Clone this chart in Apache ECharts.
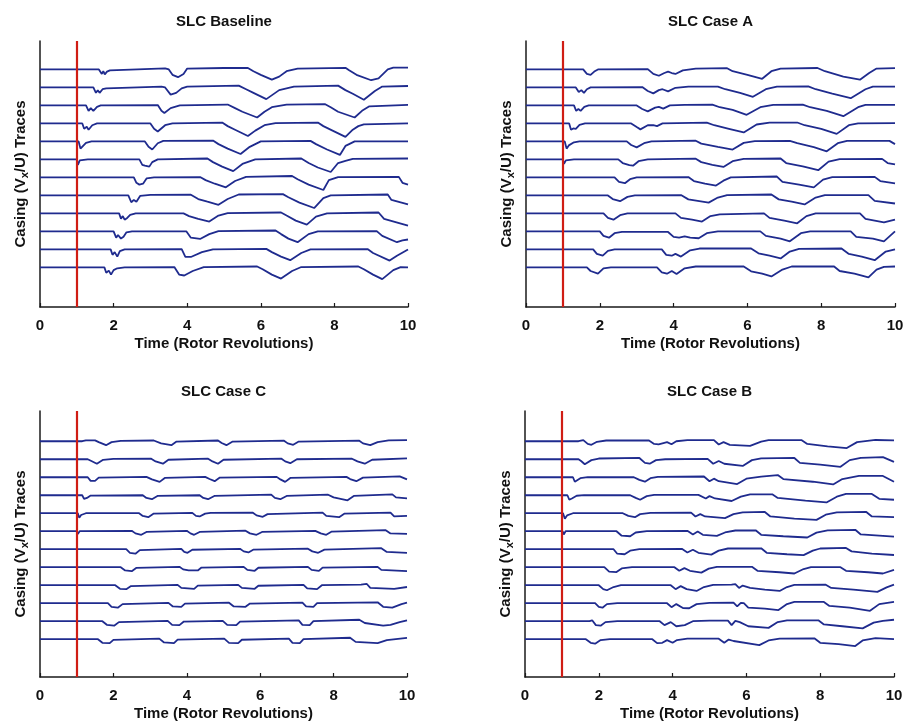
<!DOCTYPE html>
<html>
<head>
<meta charset="utf-8">
<script src="https://cdn.jsdelivr.net/npm/echarts@6/dist/echarts.min.js"></script>
<style>
  html, body { margin: 0; padding: 0; background: #ffffff; }
  #chart { width: 907px; height: 726px; }
</style>
</head>
<body>
<div id="chart"></div>
<script>
// Casing velocity traces (V_x/U) from 12 circumferential probes, top probe first.
// Each trace is a list of [time in rotor revolutions, deviation from its own baseline],
// with the deviation measured in units of the spacing between traces.
const panelTitles = ['SLC Baseline', 'SLC Case A', 'SLC Case C', 'SLC Case B'];
const xTicks = [0, 2, 4, 6, 8, 10];
const markerTime = 1;   // throttle / marker instant

const baselineTraces = [
  [[0,0],[1.6,0],[1.68,-0.25],[1.72,-0.1],[1.76,-0.28],[1.82,-0.12],[1.9,-0.05],[1.95,0],[3.4,0.06],[3.5,0],[3.6,-0.3],[3.75,-0.43],[3.9,-0.25],[4.0,0.05],[5.0,0.08],[5.65,0.08],[5.8,-0.1],[6.0,-0.3],[6.3,-0.57],[6.5,-0.4],[6.7,-0.1],[7.0,0.05],[8.3,0.09],[8.4,-0.05],[8.6,-0.3],[9.0,-0.6],[9.2,-0.5],[9.45,0],[9.6,0.1],[10,0.1]],
  [[0,0],[1.45,0],[1.52,-0.3],[1.57,-0.15],[1.62,-0.3],[1.7,-0.1],[1.8,-0.05],[3.3,0.05],[3.4,0],[3.55,-0.4],[3.7,-0.3],[3.85,-0.05],[4.0,0.05],[5.4,0.1],[5.6,-0.1],[5.8,-0.3],[6.15,-0.65],[6.5,-0.15],[6.9,0.05],[8.1,0.1],[8.3,-0.15],[8.5,-0.35],[8.8,-0.68],[9.1,-0.2],[9.3,0.05],[10,0.08]],
  [[0,0],[1.25,0],[1.32,-0.3],[1.38,-0.15],[1.45,-0.3],[1.55,-0.08],[1.65,0],[3.2,0.02],[3.3,-0.3],[3.38,-0.42],[3.55,-0.15],[3.8,0],[5.1,0.05],[5.3,-0.15],[5.5,-0.35],[5.9,-0.67],[6.1,-0.35],[6.3,-0.1],[6.7,0.05],[7.75,0.07],[7.9,-0.1],[8.1,-0.35],[8.55,-0.67],[8.75,-0.3],[8.95,-0.05],[10,0.03]],
  [[0,0],[1.15,0],[1.2,-0.3],[1.27,-0.18],[1.32,-0.35],[1.42,-0.1],[1.55,0],[3.0,0],[3.1,-0.3],[3.2,-0.45],[3.4,-0.1],[3.6,0],[4.95,0.05],[5.1,-0.15],[5.3,-0.35],[5.65,-0.7],[5.85,-0.4],[6.1,-0.1],[6.4,0.02],[7.55,0.05],[7.7,-0.15],[7.95,-0.4],[8.3,-0.75],[8.5,-0.35],[8.65,-0.15],[8.8,-0.05],[10,0]],
  [[0,0],[1.05,0],[1.1,-0.4],[1.15,-0.3],[1.25,-0.08],[1.4,0],[2.85,0],[2.95,-0.3],[3.05,-0.45],[3.2,-0.1],[3.35,0.03],[4.7,0.05],[4.85,-0.15],[5.1,-0.4],[5.45,-0.7],[5.7,-0.3],[6.0,0],[7.35,0.03],[7.5,-0.15],[7.8,-0.45],[8.15,-0.75],[8.3,-0.25],[8.4,-0.15],[8.55,0],[10,0]],
  [[0,0],[1.0,0],[1.03,-0.3],[1.08,-0.05],[1.3,0],[2.7,0],[2.78,-0.3],[2.85,-0.35],[2.9,-0.25],[2.97,-0.4],[3.05,-0.15],[3.2,0],[4.55,0.05],[4.7,-0.15],[4.95,-0.4],[5.25,-0.65],[5.5,-0.25],[5.85,0],[7.1,0.05],[7.3,-0.2],[7.55,-0.45],[7.9,-0.7],[8.1,-0.2],[8.3,-0.08],[8.5,0.03],[10,0.05]],
  [[0,0],[2.55,0],[2.62,-0.3],[2.7,-0.4],[2.75,-0.3],[2.8,-0.35],[2.9,-0.05],[3.1,0],[4.35,0.02],[4.5,-0.15],[4.75,-0.35],[5.05,-0.55],[5.3,-0.2],[5.6,0.03],[6.85,0.08],[7.0,-0.1],[7.3,-0.4],[7.7,-0.7],[7.85,-0.15],[8.1,0.02],[9.75,0.03],[9.85,-0.3],[10,-0.4]],
  [[0,0],[2.4,0],[2.48,-0.38],[2.55,-0.25],[2.62,-0.35],[2.72,-0.03],[3.0,0.03],[4.1,0.04],[4.3,-0.2],[4.55,-0.35],[4.85,-0.52],[5.1,-0.2],[5.4,0.05],[6.6,0.07],[6.75,-0.1],[7.05,-0.4],[7.45,-0.7],[7.7,-0.15],[7.9,0],[9.45,0.05],[9.55,-0.25],[10,-0.5]],
  [[0,0],[2.15,0],[2.2,-0.3],[2.25,-0.15],[2.3,-0.35],[2.37,-0.25],[2.45,-0.08],[2.6,0],[3.9,0],[4.05,-0.15],[4.3,-0.3],[4.6,-0.45],[4.85,-0.12],[5.1,0.02],[6.55,0.05],[6.7,-0.12],[6.95,-0.4],[7.25,-0.62],[7.5,-0.18],[7.8,0],[9.2,0.05],[9.35,-0.3],[10,-0.68]],
  [[0,0],[2.0,0],[2.07,-0.35],[2.12,-0.2],[2.2,-0.4],[2.27,-0.3],[2.35,-0.05],[2.5,0],[3.98,0],[4.1,-0.35],[4.35,-0.42],[4.6,-0.15],[4.85,0.02],[6.4,0.05],[6.55,-0.15],[6.75,-0.4],[7.0,-0.6],[7.3,-0.15],[7.55,0],[9.15,0.02],[9.3,-0.25],[9.7,-0.6],[9.85,-0.5],[10,-0.45]],
  [[0,0],[1.92,0],[1.97,-0.3],[2.03,-0.15],[2.1,-0.4],[2.17,-0.1],[2.3,0],[3.85,0.02],[3.95,-0.42],[4.1,-0.42],[4.4,-0.15],[4.7,0],[6.15,0.03],[6.3,-0.15],[6.55,-0.4],[6.8,-0.6],[7.1,-0.2],[7.35,0],[8.9,0.02],[9.05,-0.2],[9.5,-0.62],[9.7,-0.35],[10,0]],
  [[0,0],[1.75,0],[1.8,-0.3],[1.87,-0.18],[1.93,-0.4],[2.0,-0.15],[2.1,-0.05],[2.3,0],[3.65,0.02],[3.78,-0.4],[3.92,-0.45],[4.15,-0.2],[4.45,0.02],[5.9,0.05],[6.05,-0.1],[6.3,-0.4],[6.55,-0.62],[6.85,-0.2],[7.1,0.02],[8.65,0.05],[8.8,-0.1],[9.05,-0.4],[9.3,-0.65],[9.6,-0.15],[9.8,0.02],[10,0]]
];

const caseATraces = [
  [[0,0],[1.55,0],[1.65,-0.25],[1.75,-0.3],[1.85,-0.12],[1.95,0],[3.3,0.02],[3.45,-0.25],[3.6,-0.35],[3.75,-0.2],[3.85,-0.12],[3.95,-0.2],[4.05,-0.25],[4.25,-0.05],[4.6,0.05],[5.45,0.07],[5.6,-0.1],[6.0,-0.3],[6.4,-0.52],[6.65,-0.1],[6.9,0.05],[7.9,0.08],[8.1,-0.1],[8.6,-0.4],[9.05,-0.57],[9.3,-0.2],[9.5,0.05],[10,0.07]],
  [[0,0],[1.35,0],[1.43,-0.25],[1.5,-0.15],[1.57,-0.3],[1.65,-0.1],[1.75,0],[3.15,0.02],[3.3,-0.2],[3.45,-0.33],[3.6,-0.15],[3.7,-0.1],[3.85,-0.22],[4.05,-0.02],[4.4,0.05],[5.2,0.05],[5.4,-0.1],[5.8,-0.3],[6.15,-0.52],[6.5,-0.1],[6.8,0.05],[7.65,0.06],[7.85,-0.1],[8.3,-0.35],[8.8,-0.6],[9.2,-0.1],[9.4,0.05],[10,0.05]],
  [[0,0],[1.3,0],[1.36,-0.3],[1.42,-0.2],[1.48,-0.3],[1.58,-0.08],[1.7,0],[3.0,0],[3.15,-0.2],[3.3,-0.33],[3.5,-0.12],[3.6,-0.08],[3.72,-0.18],[3.9,0],[4.3,0.03],[5.05,0.05],[5.25,-0.1],[5.6,-0.25],[5.98,-0.52],[6.35,-0.1],[6.7,0.03],[7.5,0.05],[7.7,-0.1],[8.15,-0.3],[8.6,-0.6],[9.0,-0.1],[9.2,0.03],[10,0.03]],
  [[0,0],[1.17,0],[1.22,-0.35],[1.28,-0.28],[1.35,-0.3],[1.45,-0.08],[1.6,0],[2.85,0],[3.0,-0.2],[3.1,-0.33],[3.3,-0.1],[3.45,-0.1],[3.55,-0.15],[3.7,0],[4.9,0.04],[5.1,-0.1],[5.5,-0.3],[5.9,-0.5],[6.25,-0.06],[6.6,0.05],[7.35,0.05],[7.55,-0.1],[8.0,-0.3],[8.42,-0.58],[8.75,-0.1],[9.0,0],[10,0.02]],
  [[0,0],[1.05,0],[1.1,-0.4],[1.16,-0.22],[1.3,-0.05],[1.45,0],[2.73,0],[2.85,-0.2],[3.0,-0.33],[3.2,-0.1],[3.4,0],[4.6,0.04],[4.75,-0.12],[5.2,-0.3],[5.6,-0.45],[5.9,-0.08],[6.2,0.02],[7.15,0.03],[7.35,-0.1],[7.8,-0.32],[8.15,-0.55],[8.45,-0.1],[8.7,0.03],[9.85,0.03],[10,-0.15]],
  [[0,0],[1.0,0],[1.03,-0.25],[1.08,-0.05],[1.3,0],[2.5,0],[2.62,-0.2],[2.8,-0.32],[2.9,-0.35],[3.05,-0.1],[3.3,0],[4.6,0.04],[4.75,-0.15],[5.05,-0.3],[5.35,-0.42],[5.6,-0.1],[5.9,0.03],[6.9,0.05],[7.05,-0.2],[7.5,-0.38],[7.92,-0.6],[8.2,-0.12],[8.5,0.02],[9.65,0.03],[9.8,-0.2],[10,-0.28]],
  [[0,0],[2.4,0],[2.52,-0.25],[2.68,-0.32],[2.82,-0.1],[3.0,0],[4.4,0.02],[4.55,-0.2],[4.85,-0.35],[5.15,-0.45],[5.35,-0.18],[5.55,0],[6.8,0.05],[6.95,-0.25],[7.4,-0.4],[7.8,-0.55],[8.05,-0.12],[8.3,0.02],[9.45,0.03],[9.6,-0.2],[10,-0.33]],
  [[0,0],[2.22,0],[2.35,-0.2],[2.55,-0.32],[2.75,-0.08],[2.95,0],[4.2,0.02],[4.4,-0.22],[4.95,-0.4],[5.2,-0.12],[5.45,0.02],[6.65,0.05],[6.85,-0.22],[7.2,-0.35],[7.55,-0.5],[7.85,-0.12],[8.1,0.02],[9.28,0.02],[9.45,-0.3],[10,-0.45]],
  [[0,0],[2.1,0],[2.22,-0.25],[2.37,-0.35],[2.55,-0.1],[2.75,0],[4.05,0],[4.2,-0.25],[4.5,-0.35],[4.77,-0.45],[5.0,-0.15],[5.25,-0.05],[6.45,0],[6.6,-0.25],[7.0,-0.4],[7.35,-0.55],[7.6,-0.15],[7.85,0],[9.05,0],[9.2,-0.3],[9.7,-0.5],[10,-0.35]],
  [[0,0],[2.0,0],[2.1,-0.25],[2.25,-0.35],[2.4,-0.1],[2.6,-0.03],[3.85,-0.03],[4.0,-0.3],[4.15,-0.35],[4.3,-0.28],[4.45,-0.35],[4.68,-0.38],[4.9,-0.1],[5.2,0],[6.35,0],[6.5,-0.25],[6.9,-0.4],[7.15,-0.55],[7.45,-0.1],[7.7,0],[8.8,0],[8.95,-0.3],[9.4,-0.4],[9.7,-0.55],[10,0]],
  [[0,0],[1.82,0],[1.92,-0.25],[2.08,-0.35],[2.22,-0.08],[2.4,0],[3.68,0],[3.8,-0.3],[3.95,-0.35],[4.05,-0.25],[4.2,-0.4],[4.45,-0.05],[4.7,0.05],[6.1,0.05],[6.3,-0.22],[6.6,-0.35],[6.9,-0.5],[7.15,-0.12],[7.4,0.03],[8.55,0.05],[8.75,-0.25],[9.1,-0.4],[9.45,-0.6],[9.75,-0.12],[10,0]],
  [[0,0],[1.65,0],[1.75,-0.2],[1.95,-0.35],[2.1,-0.05],[2.3,0],[3.55,0],[3.68,-0.28],[3.82,-0.35],[3.95,-0.2],[4.08,-0.37],[4.3,-0.05],[4.6,0.05],[5.9,0.05],[6.1,-0.22],[6.4,-0.35],[6.65,-0.5],[6.95,-0.12],[7.2,0.05],[8.35,0.05],[8.5,-0.2],[8.9,-0.35],[9.28,-0.55],[9.5,-0.12],[9.7,0.03],[10,0.05]]
];

const caseCTraces = [
  [[0,0],[1.15,0],[1.25,0.05],[1.5,0.05],[1.6,-0.05],[1.8,-0.22],[1.95,-0.05],[2.2,0.02],[3.1,0.04],[3.3,-0.12],[3.58,-0.22],[3.72,-0.02],[4.85,0.04],[4.95,-0.1],[5.08,-0.22],[5.25,-0.02],[6.65,0.03],[6.75,-0.12],[6.9,-0.2],[7.05,-0.02],[8.7,0.03],[8.8,-0.12],[9.0,-0.22],[9.2,-0.05],[9.5,0.05],[10,0.06]],
  [[0,0],[1.3,0],[1.4,-0.1],[1.55,-0.25],[1.72,-0.03],[2.0,0.02],[3.03,0.03],[3.15,-0.12],[3.35,-0.25],[3.5,-0.03],[4.58,0.03],[4.7,-0.12],[4.85,-0.25],[5.0,-0.03],[6.58,0.03],[6.68,-0.12],[6.82,-0.22],[7.0,0],[8.5,0.03],[8.65,-0.12],[8.85,-0.25],[9.05,-0.03],[10,0.05]],
  [[0,0],[1.3,0],[1.38,-0.2],[1.5,-0.2],[1.6,-0.02],[2.9,0.02],[3.05,-0.12],[3.26,-0.26],[3.4,-0.04],[4.5,0.02],[4.62,-0.1],[4.76,-0.22],[4.9,-0.02],[6.45,0.02],[6.55,-0.12],[6.68,-0.26],[6.82,-0.04],[8.35,0.02],[8.45,-0.1],[8.62,-0.22],[8.8,-0.02],[9.8,0.05],[10,-0.12]],
  [[0,0],[1.15,0],[1.2,-0.2],[1.28,-0.15],[1.38,-0.02],[2.8,0],[2.9,-0.15],[3.05,-0.22],[3.2,-0.04],[4.35,0],[4.45,-0.15],[4.58,-0.22],[4.75,-0.04],[6.3,0.03],[6.4,-0.15],[6.55,-0.22],[6.72,-0.04],[7.85,0.03],[8.0,-0.12],[8.38,-0.28],[8.55,-0.04],[9.6,0.05],[9.7,-0.12],[10,-0.18]],
  [[0,0],[1.03,0],[1.07,-0.25],[1.12,-0.1],[1.25,0],[2.7,0],[2.8,-0.15],[2.95,-0.22],[3.1,-0.02],[4.15,0.02],[4.25,-0.15],[4.35,-0.18],[4.5,-0.02],[4.65,0.02],[5.8,0.03],[5.9,-0.12],[6.07,-0.2],[6.2,-0.05],[7.7,0.03],[7.8,-0.15],[8.15,-0.22],[8.3,-0.02],[9.55,0.03],[9.65,-0.18],[10,-0.15]],
  [[0,0],[1.0,0],[1.03,-0.15],[1.08,0],[2.5,0.02],[2.6,-0.12],[2.76,-0.2],[2.9,-0.04],[4.0,0.02],[4.1,-0.12],[4.2,-0.2],[4.35,-0.04],[5.6,0.03],[5.72,-0.12],[5.9,-0.2],[6.05,-0.04],[7.5,0.02],[7.65,-0.12],[7.8,-0.2],[7.95,-0.02],[9.42,0.06],[9.55,-0.12],[10,-0.15]],
  [[0,0],[2.35,0],[2.45,-0.2],[2.6,-0.25],[2.72,-0.05],[3.85,0.02],[3.93,-0.15],[4.02,-0.2],[4.15,-0.03],[5.45,0.02],[5.55,-0.12],[5.68,-0.18],[5.82,-0.02],[7.3,0.03],[7.42,-0.12],[7.58,-0.2],[7.75,-0.02],[9.3,0.06],[9.45,-0.15],[10,-0.2]],
  [[0,0],[2.2,0],[2.32,-0.18],[2.5,-0.22],[2.62,-0.04],[3.8,0.02],[3.9,-0.12],[4.05,-0.18],[4.3,-0.18],[4.4,-0.02],[5.55,0.02],[5.65,-0.15],[5.85,-0.2],[5.95,-0.03],[7.3,0.02],[7.4,-0.15],[7.6,-0.2],[7.7,-0.02],[9.2,0.02],[9.3,-0.15],[10,-0.22]],
  [[0,0],[2.05,0],[2.18,-0.2],[2.35,-0.22],[2.48,-0.05],[3.75,0.02],[3.85,-0.15],[4.2,-0.2],[4.3,-0.02],[5.4,0.02],[5.5,-0.15],[5.85,-0.2],[5.95,-0.03],[7.18,0.02],[7.28,-0.18],[7.55,-0.22],[7.68,0],[8.75,0.03],[8.9,0.08],[9.0,-0.15],[9.65,-0.2],[10,-0.1]],
  [[0,0],[1.85,0],[1.95,-0.2],[2.12,-0.25],[2.25,-0.05],[3.5,0.02],[3.62,-0.18],[3.85,-0.2],[3.95,-0.02],[5.15,0.03],[5.28,-0.18],[5.6,-0.2],[5.72,-0.02],[7.15,0.03],[7.25,-0.18],[7.45,-0.2],[7.55,0],[9.2,0.05],[9.35,-0.2],[9.6,-0.25],[9.85,-0.05],[10,0.03]],
  [[0,0],[1.7,0],[1.82,-0.2],[2.02,-0.25],[2.15,-0.05],[3.48,0.02],[3.6,-0.2],[3.8,-0.22],[3.92,-0.02],[4.98,0.02],[5.1,-0.2],[5.35,-0.22],[5.45,-0.02],[7.05,0.05],[7.15,-0.2],[7.35,-0.22],[7.45,0],[8.7,0.08],[8.85,-0.1],[9.35,-0.25],[9.55,-0.2],[9.8,-0.05],[10,0.05]],
  [[0,0],[1.58,0],[1.7,-0.2],[1.9,-0.22],[2.0,-0.04],[3.25,0.03],[3.38,-0.18],[3.65,-0.22],[3.75,-0.02],[5.02,0.03],[5.15,-0.2],[5.4,-0.22],[5.5,-0.03],[6.78,0.03],[6.88,-0.2],[7.08,-0.22],[7.18,0],[8.45,0.08],[8.6,-0.15],[9.2,-0.22],[9.45,-0.05],[10,0.07]]
];

const caseBTraces = [
  [[0,0],[1.45,0],[1.58,0.06],[1.7,-0.15],[1.8,-0.2],[1.95,-0.03],[2.2,0.04],[3.35,0.05],[3.5,-0.15],[3.62,-0.18],[3.75,-0.1],[3.85,-0.05],[3.97,-0.17],[4.1,0],[4.4,0.06],[5.12,0.06],[5.25,-0.18],[5.38,-0.05],[5.55,-0.2],[6.1,-0.26],[6.4,-0.02],[6.6,0.06],[7.5,0.06],[7.65,-0.15],[8.2,-0.28],[8.72,-0.38],[9.0,-0.05],[9.5,0.07],[10,0.05]],
  [[0,0],[1.45,0],[1.52,-0.1],[1.62,-0.28],[1.8,-0.05],[2.0,0.04],[3.1,0.07],[3.25,-0.2],[3.38,-0.25],[3.55,-0.05],[3.8,0],[4.95,0.02],[5.1,-0.25],[5.25,-0.1],[5.4,-0.25],[5.9,-0.37],[6.15,-0.05],[6.4,0.05],[7.3,0.07],[7.45,-0.2],[8.0,-0.3],[8.55,-0.42],[8.8,-0.05],[9.1,0.07],[9.7,0.12],[10,-0.15]],
  [[0,0],[1.3,0],[1.35,-0.25],[1.4,-0.15],[1.5,-0.05],[1.7,0],[2.95,0],[3.1,-0.15],[3.25,-0.25],[3.4,-0.05],[3.6,0.02],[4.85,0.04],[5.0,-0.22],[5.12,-0.08],[5.25,-0.22],[5.75,-0.38],[6.0,-0.08],[6.4,0.03],[6.85,0.12],[7.0,-0.1],[7.8,-0.25],[8.35,-0.4],[8.6,-0.1],[9.05,0.07],[9.7,0.07],[10,-0.25]],
  [[0,0],[1.15,0],[1.2,-0.25],[1.27,-0.18],[1.4,-0.03],[1.6,0],[2.85,0],[3.0,-0.15],[3.12,-0.25],[3.3,-0.05],[3.5,0.02],[4.7,0.02],[4.9,-0.18],[5.0,-0.05],[5.15,-0.18],[5.6,-0.32],[5.85,-0.08],[6.1,0.05],[6.7,0.05],[6.85,-0.15],[7.6,-0.3],[8.17,-0.4],[8.45,-0.08],[8.7,0.07],[9.4,0.07],[9.6,-0.2],[10,-0.25]],
  [[0,0],[1.03,0],[1.08,-0.3],[1.14,-0.12],[1.3,0],[2.65,0],[2.8,-0.15],[2.98,-0.22],[3.12,-0.05],[3.4,0.02],[4.5,0.03],[4.62,-0.18],[4.75,-0.05],[4.88,-0.18],[5.42,-0.27],[5.65,-0.05],[5.9,0.05],[6.5,0.07],[6.65,-0.18],[7.3,-0.3],[7.9,-0.37],[8.15,-0.08],[8.45,0.05],[9.25,0.07],[9.4,-0.18],[10,-0.22]],
  [[0,0],[1.02,0],[1.05,-0.18],[1.1,0],[2.48,0],[2.62,-0.25],[2.85,-0.28],[3.0,-0.07],[3.3,0],[4.4,0.02],[4.55,-0.18],[4.68,-0.02],[4.82,-0.2],[5.2,-0.26],[5.42,-0.07],[5.7,0.04],[6.25,0.05],[6.4,-0.2],[7.0,-0.28],[7.65,-0.35],[7.9,-0.08],[8.2,0.05],[8.95,0.08],[9.1,-0.18],[10,-0.3]],
  [[0,0],[2.4,0],[2.5,-0.25],[2.7,-0.28],[2.85,-0.08],[3.1,0],[4.25,0.02],[4.4,-0.18],[4.55,-0.03],[4.7,-0.2],[5.05,-0.3],[5.25,-0.08],[5.5,0.04],[6.4,0.05],[6.55,-0.2],[7.1,-0.28],[7.55,-0.33],[7.8,-0.08],[8.0,0.04],[8.7,0.07],[8.85,-0.12],[9.4,-0.25],[10,-0.32]],
  [[0,0],[2.15,0],[2.28,-0.25],[2.48,-0.27],[2.62,-0.07],[2.9,0],[4.05,0],[4.18,-0.2],[4.32,-0.05],[4.47,-0.2],[4.78,-0.3],[4.98,-0.08],[5.2,0.02],[6.15,0.02],[6.3,-0.2],[6.9,-0.28],[7.3,-0.35],[7.55,-0.1],[7.75,0],[8.55,0],[8.7,-0.2],[9.3,-0.28],[9.7,-0.35],[10,-0.15]],
  [[0,0],[2.0,0],[2.12,-0.22],[2.22,-0.28],[2.4,-0.1],[2.6,0],[3.95,0],[4.08,-0.22],[4.22,-0.05],[4.38,-0.22],[4.65,-0.32],[4.85,-0.1],[5.1,0.02],[5.6,0.03],[5.7,0.06],[5.8,-0.15],[5.9,-0.02],[6.1,-0.15],[6.5,-0.25],[6.9,-0.32],[7.1,-0.1],[7.3,0.02],[8.15,0.03],[8.3,-0.15],[8.9,-0.25],[9.55,-0.37],[9.8,-0.12],[10,0.03]],
  [[0,0],[1.9,0],[2.0,-0.2],[2.1,-0.25],[2.22,-0.05],[2.5,0],[3.85,0],[3.97,-0.22],[4.1,-0.05],[4.28,-0.27],[4.45,-0.28],[4.65,-0.05],[5.0,0.02],[5.65,0.03],[5.75,-0.18],[5.85,0.02],[5.93,0],[6.05,-0.25],[6.5,-0.3],[6.87,-0.38],[7.1,-0.05],[7.3,0.07],[8.1,0.07],[8.25,-0.15],[8.8,-0.25],[9.35,-0.42],[9.6,-0.05],[10,0.07]],
  [[0,0],[1.75,0],[1.82,0.05],[1.92,-0.22],[2.05,-0.25],[2.18,-0.05],[2.5,0],[3.65,0],[3.78,-0.22],[3.95,-0.05],[4.1,-0.28],[4.33,-0.22],[4.55,0],[5.0,0.03],[5.5,0.03],[5.6,-0.22],[5.7,0.02],[5.82,-0.05],[6.05,-0.28],[6.6,-0.37],[6.85,-0.05],[7.1,0.05],[7.95,0.05],[8.1,-0.18],[8.6,-0.28],[9.15,-0.4],[9.45,-0.08],[9.7,0.02],[10,0.08]],
  [[0,0],[1.65,0],[1.78,-0.2],[1.9,-0.25],[2.05,-0.05],[2.3,0],[3.45,0],[3.58,-0.22],[3.72,-0.2],[3.85,-0.05],[4.0,-0.2],[4.12,-0.05],[4.4,0.03],[5.25,0.03],[5.4,-0.2],[5.52,-0.02],[5.65,-0.1],[6.35,-0.33],[6.6,-0.07],[6.9,0.03],[7.85,0.04],[8.0,-0.2],[8.5,-0.27],[8.95,-0.38],[9.15,-0.07],[9.5,0.06],[10,0]]
];

const panelTraces = [baselineTraces, caseATraces, caseCTraces, caseBTraces];

// Panel frames (pixels) and vertical extents (trace units) of the 2x2 layout
const panelLayout = [
  { left: 40,  top: 41,  width: 368, height: 266, yMin: -2.2, yMax: 12.58 },
  { left: 526, top: 41,  width: 369, height: 266, yMin: -2.2, yMax: 12.58 },
  { left: 40,  top: 411, width: 367, height: 266, yMin: -2.1, yMax: 12.68 },
  { left: 525, top: 411, width: 369, height: 266, yMin: -2.1, yMax: 12.68 }
];

const FONT = '"Liberation Sans", Arial, Helvetica, sans-serif';
const TRACE_COLOR = '#1f2b8e';
const MARKER_COLOR = '#d01d14';
const AXIS_COLOR = '#1a1a1a';

const grids = [], xAxes = [], yAxes = [], titles = [], series = [];

panelLayout.forEach((p, i) => {
  grids.push({ left: p.left, top: p.top, width: p.width, height: p.height, containLabel: false });
  titles.push({
    text: panelTitles[i],
    left: p.left + p.width / 2,
    top: p.top - 27,
    textAlign: 'center',
    padding: 0,
    textStyle: { fontFamily: FONT, fontWeight: 'bold', fontSize: 15, color: '#111' }
  });
  xAxes.push({
    type: 'value', gridIndex: i,
    min: xTicks[0], max: xTicks[xTicks.length - 1], interval: xTicks[1] - xTicks[0],
    axisLine: { show: true, onZero: false, lineStyle: { color: AXIS_COLOR, width: 1.5 } },
    axisTick: { show: true, inside: true, length: 4, lineStyle: { color: AXIS_COLOR, width: 1.2 } },
    axisLabel: { margin: 11, fontFamily: FONT, fontWeight: 'bold', fontSize: 15, color: '#111' },
    splitLine: { show: false },
    name: 'Time (Rotor Revolutions)', nameLocation: 'middle', nameGap: 29,
    nameTextStyle: { fontFamily: FONT, fontWeight: 'bold', fontSize: 15, color: '#111' }
  });
  yAxes.push({
    type: 'value', gridIndex: i, min: p.yMin, max: p.yMax,
    axisLine: { show: true, onZero: false, lineStyle: { color: AXIS_COLOR, width: 1.5 } },
    axisTick: { show: false }, axisLabel: { show: false }, splitLine: { show: false },
    name: 'Casing (V{sub|x}/U) Traces', nameLocation: 'middle', nameRotate: 90, nameGap: 10,
    nameTextStyle: {
      fontFamily: FONT, fontWeight: 'bold', fontSize: 15, color: '#111',
      rich: { sub: { fontFamily: FONT, fontWeight: 'bold', fontSize: 11, color: '#111', padding: [8, 0, 0, 0] } }
    }
  });

  const traces = panelTraces[i];
  const n = traces.length;
  traces.forEach((trace, k) => {
    const offset = n - 1 - k;   // top probe drawn highest
    const s = {
      type: 'line', xAxisIndex: i, yAxisIndex: i,
      data: trace.map(([t, d]) => [t, offset + d]),
      showSymbol: false, symbol: 'none', smooth: false, silent: true,
      lineStyle: { color: TRACE_COLOR, width: 1.8 },
      z: 2
    };
    if (k === 0) {
      s.markLine = {
        silent: true, symbol: 'none', animation: false,
        label: { show: false },
        lineStyle: { color: MARKER_COLOR, width: 2.2, type: 'solid' },
        data: [{ xAxis: markerTime }],
        z: 3
      };
    }
    series.push(s);
  });
});

const chart = echarts.init(document.getElementById('chart'), null, { renderer: 'canvas' });
chart.setOption({
  backgroundColor: '#ffffff',
  animation: false,
  title: titles,
  grid: grids,
  xAxis: xAxes,
  yAxis: yAxes,
  series: series
});
</script>
</body>
</html>
